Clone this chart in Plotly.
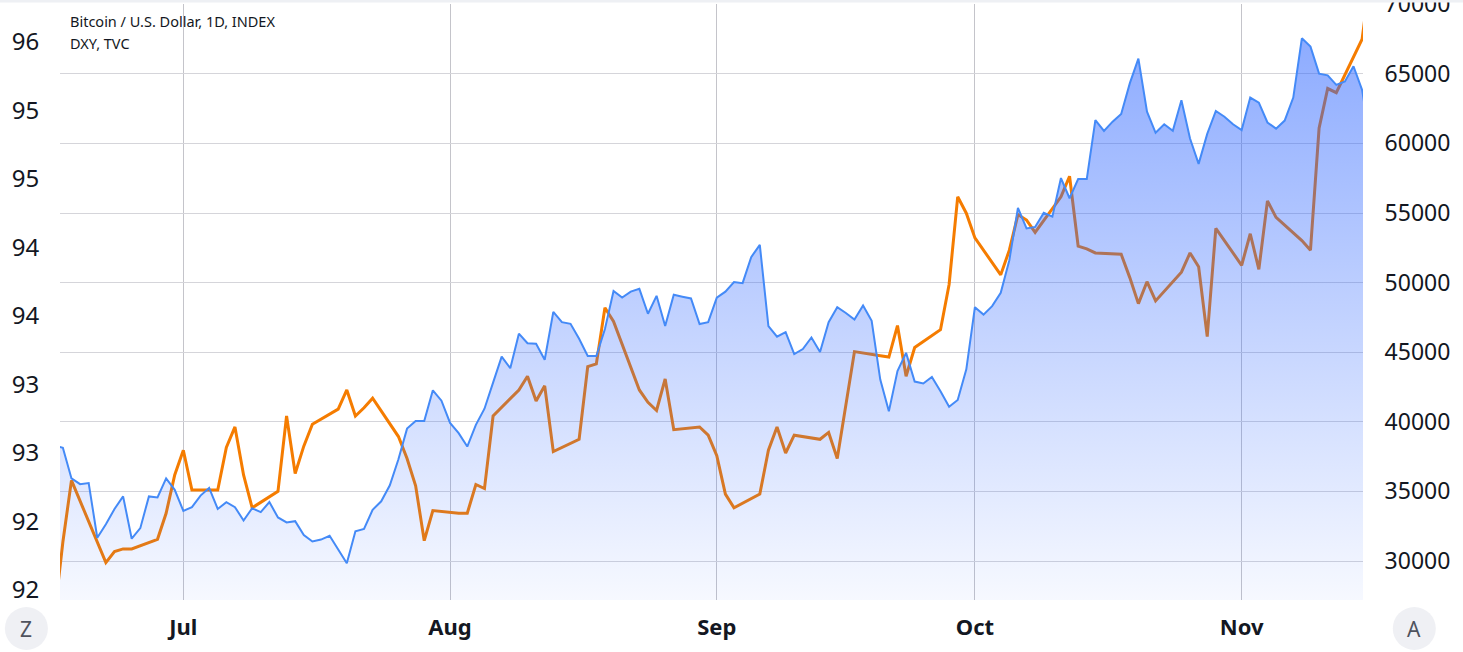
import pandas as pd
import plotly.graph_objects as go

# ---------------- data ----------------
btc_start = "2021-06-16"
btc_close = [
    38300, 38130, 35930, 35520, 35600, 31670, 32640, 33740, 34640, 31600,
    32360, 34640, 34560, 35930, 35110,                                      # Jun 16-30
    33600, 33870, 34700, 35250, 33740, 34230, 33870, 32910, 33790, 33510,
    34230, 33130, 32770, 32860, 31870, 31400, 31540, 31810, 30850, 29840,
    32140, 32310, 33680, 34290, 35440, 37310, 39510, 40060, 40060, 42260,
    41520,                                                                  # Jul
    39920, 39180, 38220, 39780, 40940, 42810, 44680, 43850, 46330, 45640,
    45610, 44460, 47900, 47160, 47040, 45970, 44730, 44730, 46660, 49400,
    48920, 49350, 49550, 47760, 49050, 46880, 49130, 48990, 48860, 47020,
    47160,                                                                  # Aug
    48920, 49350, 50040, 49960, 51830, 52710, 46880, 46110, 46440, 44870,
    45230, 46060, 45010, 47160, 48230, 47820, 47340, 48360, 47260, 43030,
    40750, 43640, 44950, 42890, 42750, 43220, 42200, 41080, 41570, 43770,   # Sep
    48230, 47700, 48310, 49270, 51610, 55370, 53890, 54000, 55010, 54740,
    57510, 56060, 57440, 57440, 61670, 60900, 61560, 62110, 64310, 66090,
    62280, 60760, 61370, 60900, 63100, 60350, 58530, 60680, 62330, 61920,
    61370,                                                                  # Oct
    60960, 63290, 62930, 61500, 61060, 61640, 63290, 67550, 66950, 65010,
    64890, 64200, 64450, 65540, 63840, 60000,                               # Nov 1-16
]
btc_dates = pd.date_range(btc_start, periods=len(btc_close), freq="D")

dxy_dates = [
    "2021-06-16", "2021-06-17", "2021-06-18", "2021-06-21", "2021-06-22", "2021-06-23",
    "2021-06-24", "2021-06-25", "2021-06-28", "2021-06-29", "2021-06-30", "2021-07-01",
    "2021-07-02", "2021-07-05", "2021-07-06", "2021-07-07", "2021-07-08", "2021-07-09",
    "2021-07-12", "2021-07-13", "2021-07-14", "2021-07-15", "2021-07-16", "2021-07-19",
    "2021-07-20", "2021-07-21", "2021-07-22", "2021-07-23", "2021-07-26", "2021-07-27",
    "2021-07-28", "2021-07-29", "2021-07-30", "2021-08-02", "2021-08-03", "2021-08-04",
    "2021-08-05", "2021-08-06", "2021-08-09", "2021-08-10", "2021-08-11", "2021-08-12",
    "2021-08-13", "2021-08-16", "2021-08-17", "2021-08-18", "2021-08-19", "2021-08-20",
    "2021-08-23", "2021-08-24", "2021-08-25", "2021-08-26", "2021-08-27", "2021-08-30",
    "2021-08-31", "2021-09-01", "2021-09-02", "2021-09-03", "2021-09-06", "2021-09-07",
    "2021-09-08", "2021-09-09", "2021-09-10", "2021-09-13", "2021-09-14", "2021-09-15",
    "2021-09-16", "2021-09-17", "2021-09-20", "2021-09-21", "2021-09-22", "2021-09-23",
    "2021-09-24", "2021-09-27", "2021-09-28", "2021-09-29", "2021-09-30", "2021-10-01",
    "2021-10-04", "2021-10-05", "2021-10-06", "2021-10-07", "2021-10-08", "2021-10-11",
    "2021-10-12", "2021-10-13", "2021-10-14", "2021-10-15", "2021-10-18", "2021-10-19",
    "2021-10-20", "2021-10-21", "2021-10-22", "2021-10-25", "2021-10-26", "2021-10-27",
    "2021-10-28", "2021-10-29", "2021-11-01", "2021-11-02", "2021-11-03", "2021-11-04",
    "2021-11-05", "2021-11-08", "2021-11-09", "2021-11-10", "2021-11-11", "2021-11-12",
    "2021-11-15", "2021-11-16",
]
dxy_close = [
    91.30, 91.85, 92.30, 91.85, 91.70, 91.78,
    91.80, 91.80, 91.87, 92.06, 92.34, 92.52,
    92.23, 92.23, 92.54, 92.69, 92.34, 92.10,
    92.22, 92.77, 92.35, 92.55, 92.71, 92.82,
    92.96, 92.77, 92.83, 92.90, 92.62, 92.46,
    92.26, 91.86, 92.08, 92.06, 92.06, 92.27,
    92.24, 92.77, 92.96, 93.06, 92.88, 92.99,
    92.51, 92.60, 93.13, 93.15, 93.56, 93.46,
    92.96, 92.87, 92.81, 93.04, 92.67, 92.69,
    92.63, 92.48, 92.20, 92.10, 92.20, 92.52,
    92.69, 92.50, 92.63, 92.60, 92.65, 92.46,
    92.85, 93.24, 93.21, 93.20, 93.43, 93.06,
    93.27, 93.40, 93.73, 94.37, 94.25, 94.07,
    93.80, 93.98, 94.24, 94.20, 94.11, 94.37,
    94.52, 94.01, 93.99, 93.96, 93.95, 93.78,
    93.59, 93.75, 93.61, 93.82, 93.96, 93.86,
    93.35, 94.14, 93.87, 94.10, 93.84, 94.34,
    94.22, 94.05, 93.98, 94.87, 95.16, 95.13,
    95.52, 96.00,
]

month_ticks = ["2021-07-01", "2021-08-01", "2021-09-01", "2021-10-01", "2021-11-01"]
month_labels = ["Jul", "Aug", "Sep", "Oct", "Nov"]
dxy_tickvals = [91.5, 92.0, 92.5, 93.0, 93.5, 94.0, 94.5, 95.0, 95.5]
dxy_ticktext = ["92", "92", "93", "93", "94", "94", "95", "95", "96"]
btc_tickvals = [30000, 35000, 40000, 45000, 50000, 55000, 60000, 65000, 70000]

legend_lines = ["Bitcoin / U.S. Dollar, 1D, INDEX", "DXY, TVC"]

# ---------------- figure ----------------
FONT = "Noto Sans"
TXT = "#131722"

fig = go.Figure()

fig.add_trace(go.Scatter(
    x=dxy_dates, y=dxy_close, mode="lines", yaxis="y",
    line=dict(color="#F57C00", width=3), hoverinfo="skip", name="DXY",
))
fig.add_trace(go.Scatter(
    x=btc_dates, y=btc_close, mode="lines", yaxis="y2",
    line=dict(color="#448AF7", width=2),
    fill="tozeroy",
    fillgradient=dict(
        type="vertical",
        colorscale=[[0, "rgba(41,98,255,0.04)"], [1, "rgba(41,98,255,0.56)"]],
        start=27200, stop=70000,
    ),
    hoverinfo="skip", name="BTCUSD",
))

W, H = 1463, 652
L, R, T, B = 60, 100, 4, 52
pw, ph = W - L - R, H - T - B


def px(x):
    return (x - L) / pw


def py(y):
    return (H - B - y) / ph


fig.update_layout(
    width=W, height=H,
    margin=dict(l=L, r=R, t=T, b=B, autoexpand=False),
    paper_bgcolor="white", plot_bgcolor="white",
    showlegend=False,
    xaxis=dict(
        range=["2021-06-16 16:00", "2021-11-15 02:30"],
        tickvals=month_ticks, ticktext=month_labels,
        showgrid=True, gridcolor="#c4c4ca", gridwidth=1,
        ticks="outside", ticklen=8, tickcolor="rgba(0,0,0,0)",
        tickfont=dict(family=FONT, size=22, color=TXT, weight="bold"),
        zeroline=False, showline=False, automargin=False,
    ),
    yaxis=dict(
        range=[91.427, 95.777],
        tickvals=dxy_tickvals, ticktext=dxy_ticktext,
        showgrid=False, zeroline=False, showline=False, side="left",
        ticks="outside", ticklen=15, tickcolor="rgba(0,0,0,0)",
        tickfont=dict(family=FONT, size=24, color=TXT), automargin=False,
    ),
    yaxis2=dict(
        overlaying="y", side="right",
        range=[27198, 70014],
        tickvals=btc_tickvals, tickformat="d",
        showgrid=True, gridcolor="#d5d5da", gridwidth=1,
        zeroline=False, showline=False,
        ticks="outside", ticklen=16, tickcolor="rgba(0,0,0,0)",
        ticklabeloverflow="allow", automargin=False,
        tickfont=dict(family=FONT, size=23, color=TXT),
    ),
)

# legend text (top-left)
for txt, yc in zip(legend_lines, [21, 43]):
    fig.add_annotation(
        xref="paper", yref="paper", x=px(68), y=py(yc),
        xanchor="left", yanchor="middle", showarrow=False,
        text=txt, font=dict(family=FONT, size=14.5, color=TXT),
    )

# top strip
fig.add_shape(type="rect", xref="paper", yref="paper",
              x0=px(0), x1=px(W), y0=py(2.5), y1=py(0),
              fillcolor="#eef0f4", line=dict(width=0), layer="above")

# Z / A round buttons
for cx, letter in [(26.4, "Z"), (1414.3, "A")]:
    fig.add_shape(type="circle", xref="paper", yref="paper",
                  x0=px(cx - 21.5), x1=px(cx + 21.5),
                  y0=py(650), y1=py(607),
                  fillcolor="#eff0f4", line=dict(width=0))
    fig.add_annotation(xref="paper", yref="paper", x=px(cx), y=py(628.5),
                       xanchor="center", yanchor="middle", showarrow=False,
                       text=letter, font=dict(family=FONT, size=21, color="#50535e"))

fig.write_html(
    "out.html",
    config={"displayModeBar": False},
    post_script="document.body.style.margin='0';document.body.style.overflow='hidden';",
)
